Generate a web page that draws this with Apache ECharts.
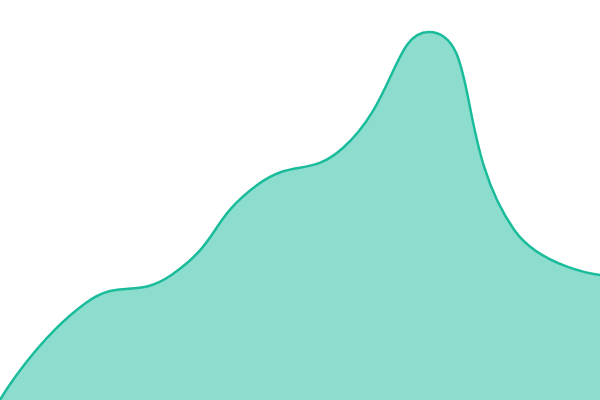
<!DOCTYPE html>
<html>
<head>
    <meta charset="utf-8">
    <title>ECharts</title>
    <script src="https://cdn.jsdelivr.net/npm/echarts@6/dist/echarts.min.js"></script>
    <style>
        html, body { margin: 0; padding: 0; background: #fff; }
    </style>
</head>
<body>
    <div id="main" style="width: 600px;height:400px;"></div>
    <script type="text/javascript">
        // data
        var categories = ['1', '2', '3', '4', '5', '6', '7', '8'];
        var values = [0, 97, 125, 215, 252, 368, 170, 125];

        var myChart = echarts.init(document.getElementById('main'));

        var option = {
            animation: false,
            grid: {
                left: 0,
                right: 0,
                top: 0,
                bottom: 0
            },
            xAxis: {
                type: 'category',
                boundaryGap: false,
                data: categories,
                show: false
            },
            yAxis: {
                type: 'value',
                min: 0,
                max: 400,
                show: false
            },
            series: [
                {
                    type: 'line',
                    data: values,
                    smooth: true,
                    symbol: 'none',
                    lineStyle: {
                        color: '#1abc9c',
                        width: 2.5
                    },
                    areaStyle: {
                        color: '#1abc9c',
                        opacity: 0.5
                    }
                }
            ]
        };

        myChart.setOption(option);
    </script>
</body>
</html>
